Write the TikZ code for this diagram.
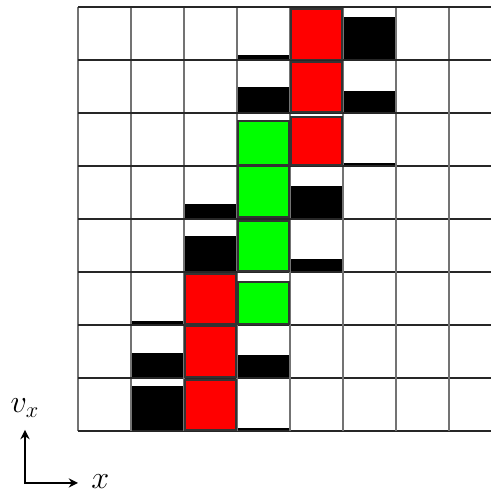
\documentclass[tikz,border=0pt]{standalone}
\usetikzlibrary{arrows.meta}
\tikzset{
  gridh/.style={black!85,line width=.6pt},
  gridv/.style={black!55,line width=.6pt},
  massbar/.style={fill=black},
  redcell/.style={fill=red,draw=black!80,line width=1pt},
  greencell/.style={fill=green,draw=black!80,line width=1pt},
  axis/.style={line width=1pt,{Stealth[length=5pt,width=5pt]}-{Stealth[length=5pt,width=5pt]}},
  axislabel/.style={font=\LARGE,inner sep=0.5pt}
}
\begin{document}
\begin{tikzpicture}
\useasboundingbox (-1.472,-1.170) rectangle (7.792,8.132);
\fill[white] (-1.472,-1.170) rectangle (7.792,8.132);
\begin{scope}
\clip (-0.1,-0.1) rectangle (7.792,8.132);
% partial fills
\foreach \c/\r/\h in {3/7/0.1, 5/7/0.81, 3/6/0.485, 5/6/0.42, 5/5/0.06, 2/4/0.28, 4/4/0.62, 2/3/0.68, 4/3/0.245, 1/2/0.08, 1/1/0.47, 3/1/0.44, 1/0/0.85, 3/0/0.05}
  \fill[massbar] (\c,\r) rectangle ++(1,\h);
% grid
\foreach \i in {0,...,8} {
  \draw[gridv] (\i,0) -- (\i,8);
  \draw[gridh] (0,\i) -- (8,\i);
}
% full cells
\foreach \c/\y/\t in {4/7.01/7.96, 4/6.02/6.96, 4/5.02/5.93, 2/2.02/2.96, 2/1.025/1.98, 2/0.02/0.96}
  \draw[redcell] (\c+0.015,\y) rectangle (\c+0.98,\t);
\foreach \y/\t in {5.02/5.85, 4.03/4.99, 3.02/3.96, 2.02/2.81}
  \draw[greencell] (3.025,\y) rectangle (3.98,\t);
\end{scope}
% axes
\coordinate (o) at (-1,-0.98);
\coordinate (vtip) at (-1,0.02);
\coordinate (xtip) at (0,-0.98);
\draw[axis] (vtip) -- (o) -- (xtip);
\node[axislabel] (vlab) at (-1.0,0.43) {$v_x$};
\node[axislabel] (xlab) at (0.42,-0.96) {$x$};
\end{tikzpicture}
\end{document}
